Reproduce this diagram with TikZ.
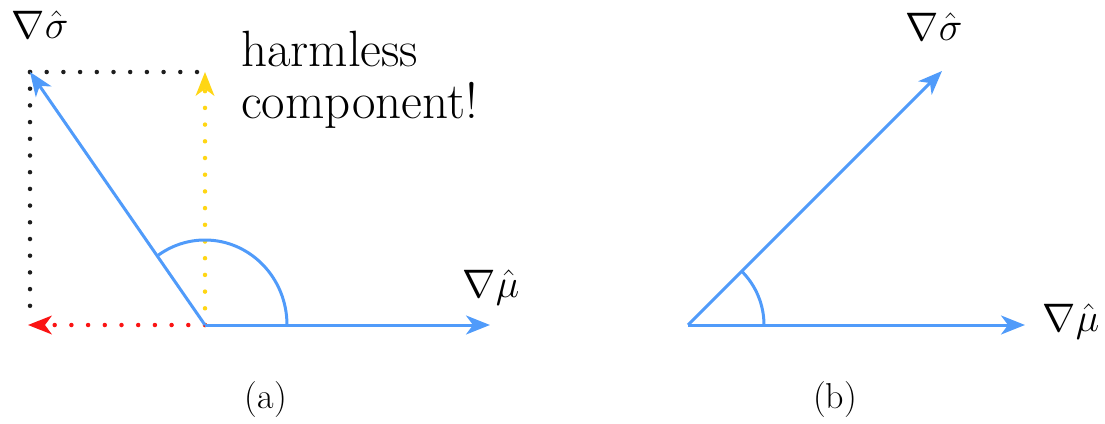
\documentclass[tikz,border=0pt]{standalone}
\usepackage{fontspec}
\usetikzlibrary{arrows.meta,calc}
\definecolor{vblue}{RGB}{80,155,250}
\definecolor{vyellow}{RGB}{255,214,20}
\definecolor{vred}{RGB}{250,20,20}
\definecolor{vblack}{RGB}{30,30,30}
\newcommand{\biglab}[1]{\scalebox{1.6}{#1}}
\tikzset{
  vec/.style={draw=vblue, line width=3pt, -{Stealth[length=24pt,width=19pt,inset=7pt]}},
  anglearc/.style={draw=vblue, line width=3pt},
  dotline/.style={line width=4.5pt, line cap=round, dash pattern=on 0pt off 16.7pt},
  dotvec/.style={dotline, -{Stealth[length=24pt,width=19pt,inset=7pt, line width=0pt, sep=0pt]}},
  lab/.style={inner sep=0pt, font=\fontsize{24}{28}\selectfont},
  captxt/.style={inner sep=0pt, font=\fontsize{36}{40}\selectfont},
  note/.style={inner sep=0pt, align=left, font=\fontsize{51}{52}\selectfont}
}
\begin{document}
\begin{tikzpicture}[x=1pt,y=-1pt]
\useasboundingbox (0,0) rectangle (1105,423);
% ---- panel (a)
\coordinate (Oa) at (205,325);
\coordinate (Ma) at (490,325);
\coordinate (Sa) at (30,72);
\coordinate (Ya) at (205,72);
\coordinate (Ra) at (28,325);
\coordinate (Ca) at (30,318);
\coordinate (Aa) at (287,325);
\draw[dotline, vblack] (Sa) -- (Ya);
\draw[dotline, vblack] (Sa) -- (Ca);
\draw[dotvec, vyellow] (Oa) -- (Ya);
\draw[dotvec, vred] (Oa) -- (Ra);
\draw[anglearc] (Aa) arc[start angle=0, end angle=-124.7, x radius=82, y radius=85];
\draw[vec] (Oa) -- (Ma);
\draw[vec] (Oa) -- (Sa);
\node[lab] (lsa) at (40,25) {\biglab{$\nabla\hat{\sigma}$}};
\node[lab] (lma) at (491,288) {\biglab{$\nabla\hat{\mu}$}};
\node[note, anchor=north west] (harm) at (241,31) {harmless\\component!};
\node[captxt] (capa) at (266,400) {(a)};
% ---- panel (b)
\coordinate (Ob) at (688,325);
\coordinate (Mb) at (1025,325);
\coordinate (Sb) at (942,71);
\coordinate (Ab) at (764,325);
\draw[anglearc] (Ab) arc[start angle=0, end angle=-45, radius=76];
\draw[vec] (Ob) -- (Mb);
\draw[vec] (Ob) -- (Sb);
\node[lab] (lsb) at (934,27) {\biglab{$\nabla\hat{\sigma}$}};
\node[lab] (lmb) at (1071,322) {\biglab{$\nabla\hat{\mu}$}};
\node[captxt] (capb) at (835,400) {(b)};
\end{tikzpicture}
\end{document}
